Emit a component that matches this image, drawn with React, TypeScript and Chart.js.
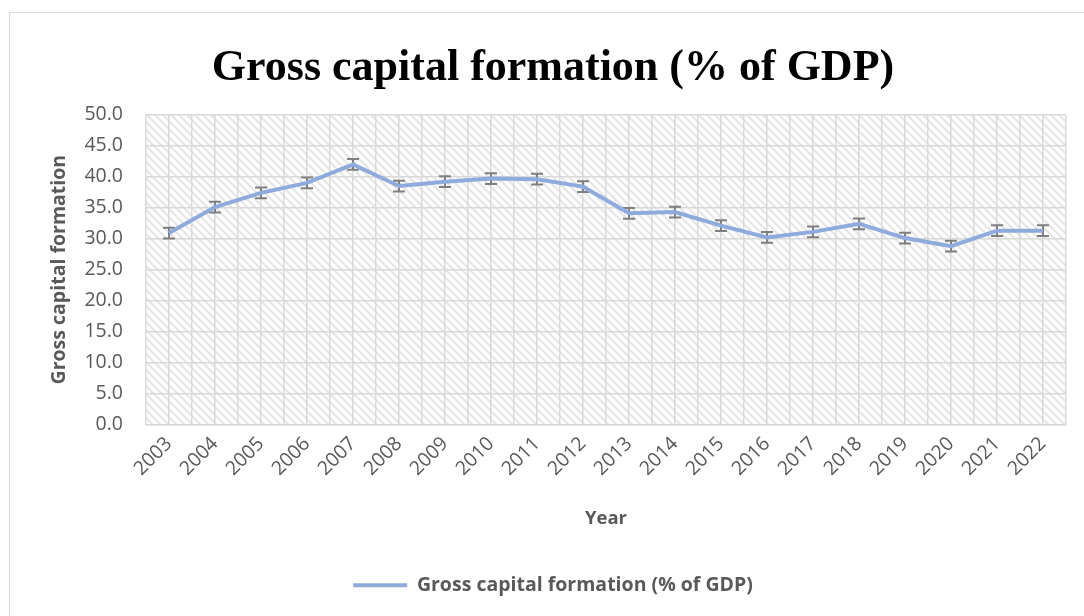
import { useEffect, useRef } from "react";
import { Chart, registerables } from "chart.js";

Chart.register(...registerables);

const YEARS = ["2003", "2004", "2005", "2006", "2007", "2008", "2009", "2010", "2011", "2012", "2013", "2014", "2015", "2016", "2017", "2018", "2019", "2020", "2021", "2022"];
const GCF = [30.9, 35.1, 37.4, 39.0, 42.0, 38.5, 39.2, 39.7, 39.6, 38.4, 34.1, 34.3, 32.1, 30.2, 31.1, 32.4, 30.1, 28.8, 31.3, 31.3];
const ERROR_AMOUNT = 0.87;
const Y_MIN = 0;
const Y_MAX = 50;
const Y_STEP = 5;

const TITLE = "Gross capital formation (% of GDP)";
const SERIES_NAME = "Gross capital formation (% of GDP)";
const Y_TITLE = "Gross capital formation";
const X_TITLE = "Year";

const LINE_COLOR = "#8FAADC";
const GRID_COLOR = "#d9d9d9";
const TEXT_COLOR = "#595959";
const SANS = "'Open Sans', 'Noto Sans', sans-serif";

const hatchPlugin = {
  id: "hatch",
  beforeDraw(chart: any) {
    const { ctx, chartArea } = chart;
    if (!chartArea) return;
    const { left, top, right, bottom } = chartArea;
    const p = document.createElement("canvas");
    p.width = 8;
    p.height = 8;
    const pc = p.getContext("2d")!;
    pc.strokeStyle = "#e6e6e6";
    pc.lineWidth = 2.2;
    pc.beginPath();
    pc.moveTo(-2, -2);
    pc.lineTo(10, 10);
    pc.moveTo(-2, 6);
    pc.lineTo(2, 10);
    pc.moveTo(6, -2);
    pc.lineTo(10, 2);
    pc.stroke();
    const pat = ctx.createPattern(p, "repeat");
    ctx.save();
    ctx.fillStyle = pat;
    ctx.fillRect(left, top, right - left, bottom - top);
    ctx.restore();
  },
};

const errorBarPlugin = {
  id: "errbars",
  beforeDatasetsDraw(chart: any) {
    const { ctx } = chart;
    const meta = chart.getDatasetMeta(0);
    const ys = chart.scales.y;
    ctx.save();
    ctx.strokeStyle = "#7f7f7f";
    ctx.lineWidth = 2;
    meta.data.forEach((pt: any, i: number) => {
      const v = GCF[i];
      const yT = ys.getPixelForValue(v + ERROR_AMOUNT);
      const yB = ys.getPixelForValue(v - ERROR_AMOUNT);
      const x = pt.x;
      ctx.beginPath();
      ctx.moveTo(x, yT);
      ctx.lineTo(x, yB);
      ctx.moveTo(x - 6, yT);
      ctx.lineTo(x + 6, yT);
      ctx.moveTo(x - 6, yB);
      ctx.lineTo(x + 6, yB);
      ctx.stroke();
    });
    ctx.restore();
  },
};

export default function App() {
  const ref = useRef<HTMLCanvasElement | null>(null);

  useEffect(() => {
    document.body.style.margin = "0";
    const canvas = ref.current;
    if (!canvas) return;
    const chart = new Chart(canvas, {
      type: "line",
      data: {
        labels: YEARS,
        datasets: [
          {
            label: SERIES_NAME,
            data: GCF,
            borderColor: LINE_COLOR,
            backgroundColor: LINE_COLOR,
            borderWidth: 4,
            pointRadius: 0,
            tension: 0,
            fill: false,
          },
        ],
      },
      options: {
        responsive: false,
        animation: false,
        layout: { padding: { left: 40, right: 18, top: 0, bottom: 11 } },
        plugins: {
          title: {
            display: true,
            text: TITLE,
            color: "#000000",
            font: { family: "'Liberation Serif', serif", size: 44, weight: "bold", lineHeight: 1.2 },
            padding: { top: 42, bottom: 20 },
          },
          legend: {
            position: "bottom",
            labels: {
              boxWidth: 54,
              boxHeight: 4,
              padding: 10,
              color: TEXT_COLOR,
              font: { family: SANS, size: 19.5, weight: "bold" },
              generateLabels: (c: any) =>
                (Chart.defaults.plugins.legend.labels as any)
                  .generateLabels(c)
                  .map((l: any) => ({ ...l, lineWidth: 0, fillStyle: LINE_COLOR })),
            },
          },
          tooltip: { enabled: false },
        },
        scales: {
          x: {
            type: "category",
            offset: true,
            grid: { offset: true, color: GRID_COLOR, lineWidth: 1.5, drawTicks: false },
            border: { color: GRID_COLOR, width: 1.5 },
            ticks: {
              color: TEXT_COLOR,
              font: { family: SANS, size: 19.5 },
              minRotation: 45,
              maxRotation: 45,
              autoSkip: false,
              padding: 8,
            },
            title: {
              display: true,
              text: X_TITLE,
              color: TEXT_COLOR,
              font: { family: SANS, size: 18.5, weight: "bold", lineHeight: 1.2 },
              padding: { top: 0, bottom: 36 },
            },
            afterFit: (s: any) => {
              s.height = 141;
            },
          },
          x2: {
            type: "category",
            position: "bottom",
            offset: true,
            grid: { offset: false, color: GRID_COLOR, lineWidth: 1.5, drawTicks: false },
            border: { display: false },
            ticks: { display: false },
            afterFit: (s: any) => {
              s.height = 0;
            },
          },
          y: {
            min: Y_MIN,
            max: Y_MAX,
            ticks: {
              stepSize: Y_STEP,
              callback: (v: any) => Number(v).toFixed(1),
              color: TEXT_COLOR,
              font: { family: SANS, size: 19.5 },
              padding: 23,
            },
            grid: { color: GRID_COLOR, lineWidth: 1.5, drawTicks: false },
            border: { display: false },
            title: {
              display: true,
              text: Y_TITLE,
              color: TEXT_COLOR,
              font: { family: SANS, size: 19.5, weight: "bold", lineHeight: 1.2 },
              padding: { top: 8, bottom: 0 },
            },
            afterFit: (s: any) => {
              s.width = 106;
            },
          },
        },
      } as any,
      plugins: [hatchPlugin, errorBarPlugin],
    });
    return () => chart.destroy();
  }, []);

  return (
    <div style={{ position: "relative", width: 1084, height: 616, overflow: "hidden", background: "#fff" }}>
      <div
        style={{
          position: "absolute",
          left: 9,
          top: 12,
          width: 1200,
          height: 700,
          borderLeft: "1.5px solid #d9d9d9",
          borderTop: "1.5px solid #d9d9d9",
        }}
      />
      <canvas ref={ref} width={1084} height={616} style={{ position: "absolute", left: 0, top: 0 }} />
    </div>
  );
}
